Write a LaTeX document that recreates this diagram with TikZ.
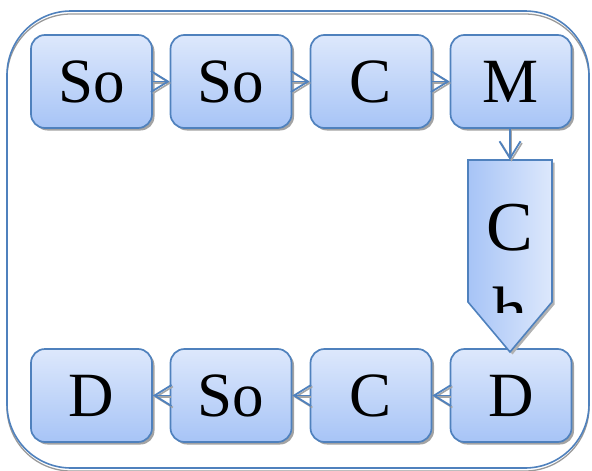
\documentclass[tikz,border=0pt]{standalone}
\usepackage{fontspec}
\setmainfont{Liberation Serif}
\usetikzlibrary{arrows.meta,shadows}
\definecolor{edgeblue}{HTML}{4F81BD}
\definecolor{lightblue}{HTML}{DDE8FC}
\definecolor{midblue}{HTML}{A7C4F6}
\tikzset{
  stepbox/.style={draw=edgeblue, line width=1.7pt, rounded corners=14pt,
    top color=lightblue, bottom color=midblue,
    minimum width=121pt, minimum height=93pt, inner sep=0pt,
    font=\fontsize{63}{63}\selectfont,
    drop shadow={shadow xshift=2.5pt, shadow yshift=-2.5pt, fill=black!45, opacity=0.8}},
  flow/.style={draw=edgeblue, line width=1.8pt,
    -{Straight Barb[length=17pt,width=21pt,line width=1.8pt]}},
  flowshadow/.style={draw=black!35, line width=1.6pt,
    -{Straight Barb[length=17pt,width=21pt,line width=1.6pt]}},
  bigtext/.style={font=\fontsize{70}{70}\selectfont, inner sep=0pt, anchor=base}
}
\begin{document}
\begin{tikzpicture}[x=1pt,y=-1pt]
\useasboundingbox (0,0) rectangle (592,471);
% outer frame with its shadow
\draw[black!40, line width=1.3pt, rounded corners=64pt] (7,14) rectangle (589,471);
\draw[edgeblue, line width=1.6pt, rounded corners=64pt] (7,11) rectangle (589,468);

% top row
\node[stepbox] (a1) at (91.5,81.5) {So};
\node[stepbox] (a2) at (231,81.5) {So};
\node[stepbox] (a3) at (371,81.5) {C};
\node[stepbox] (a4) at (511,81.5) {M};
% bottom row
\node[stepbox] (b1) at (91.5,395.5) {D};
\node[stepbox] (b2) at (231,395.5) {So};
\node[stepbox] (b3) at (371,395.5) {C};
\node[stepbox] (b4) at (511,395.5) {D};

% downward chevron between the rows
\coordinate (chtop) at (510,160);
\fill[black!30] (470.5,162.5) -- (554.5,162.5) -- (554.5,304.5) -- (512.5,354.5) -- (470.5,304.5) -- cycle;
\path[draw=edgeblue, line width=1.6pt, left color=midblue, right color=lightblue]
  (468,160) -- (552,160) -- (552,302) -- (510,352) -- (468,302) -- cycle;
\begin{scope}
  \clip (468,160) rectangle (552,312);
  \node[bigtext] (ch1) at (510,250) {C};
  \node[bigtext] (ch2) at (510,335) {h};
\end{scope}

% connectors
\foreach \s/\t in {a1/a2,a2/a3,a3/a4,b4/b3,b3/b2,b2/b1}{
  \draw[flowshadow, transform canvas={xshift=1.5pt,yshift=-1.5pt}] (\s) -- (\t);
  \draw[flow] (\s) -- (\t);
}
\draw[flowshadow, transform canvas={xshift=1.5pt,yshift=-1.5pt}] (a4.south -| chtop) -- (chtop);
\draw[flow] (a4.south -| chtop) -- (chtop);
\end{tikzpicture}
\end{document}
